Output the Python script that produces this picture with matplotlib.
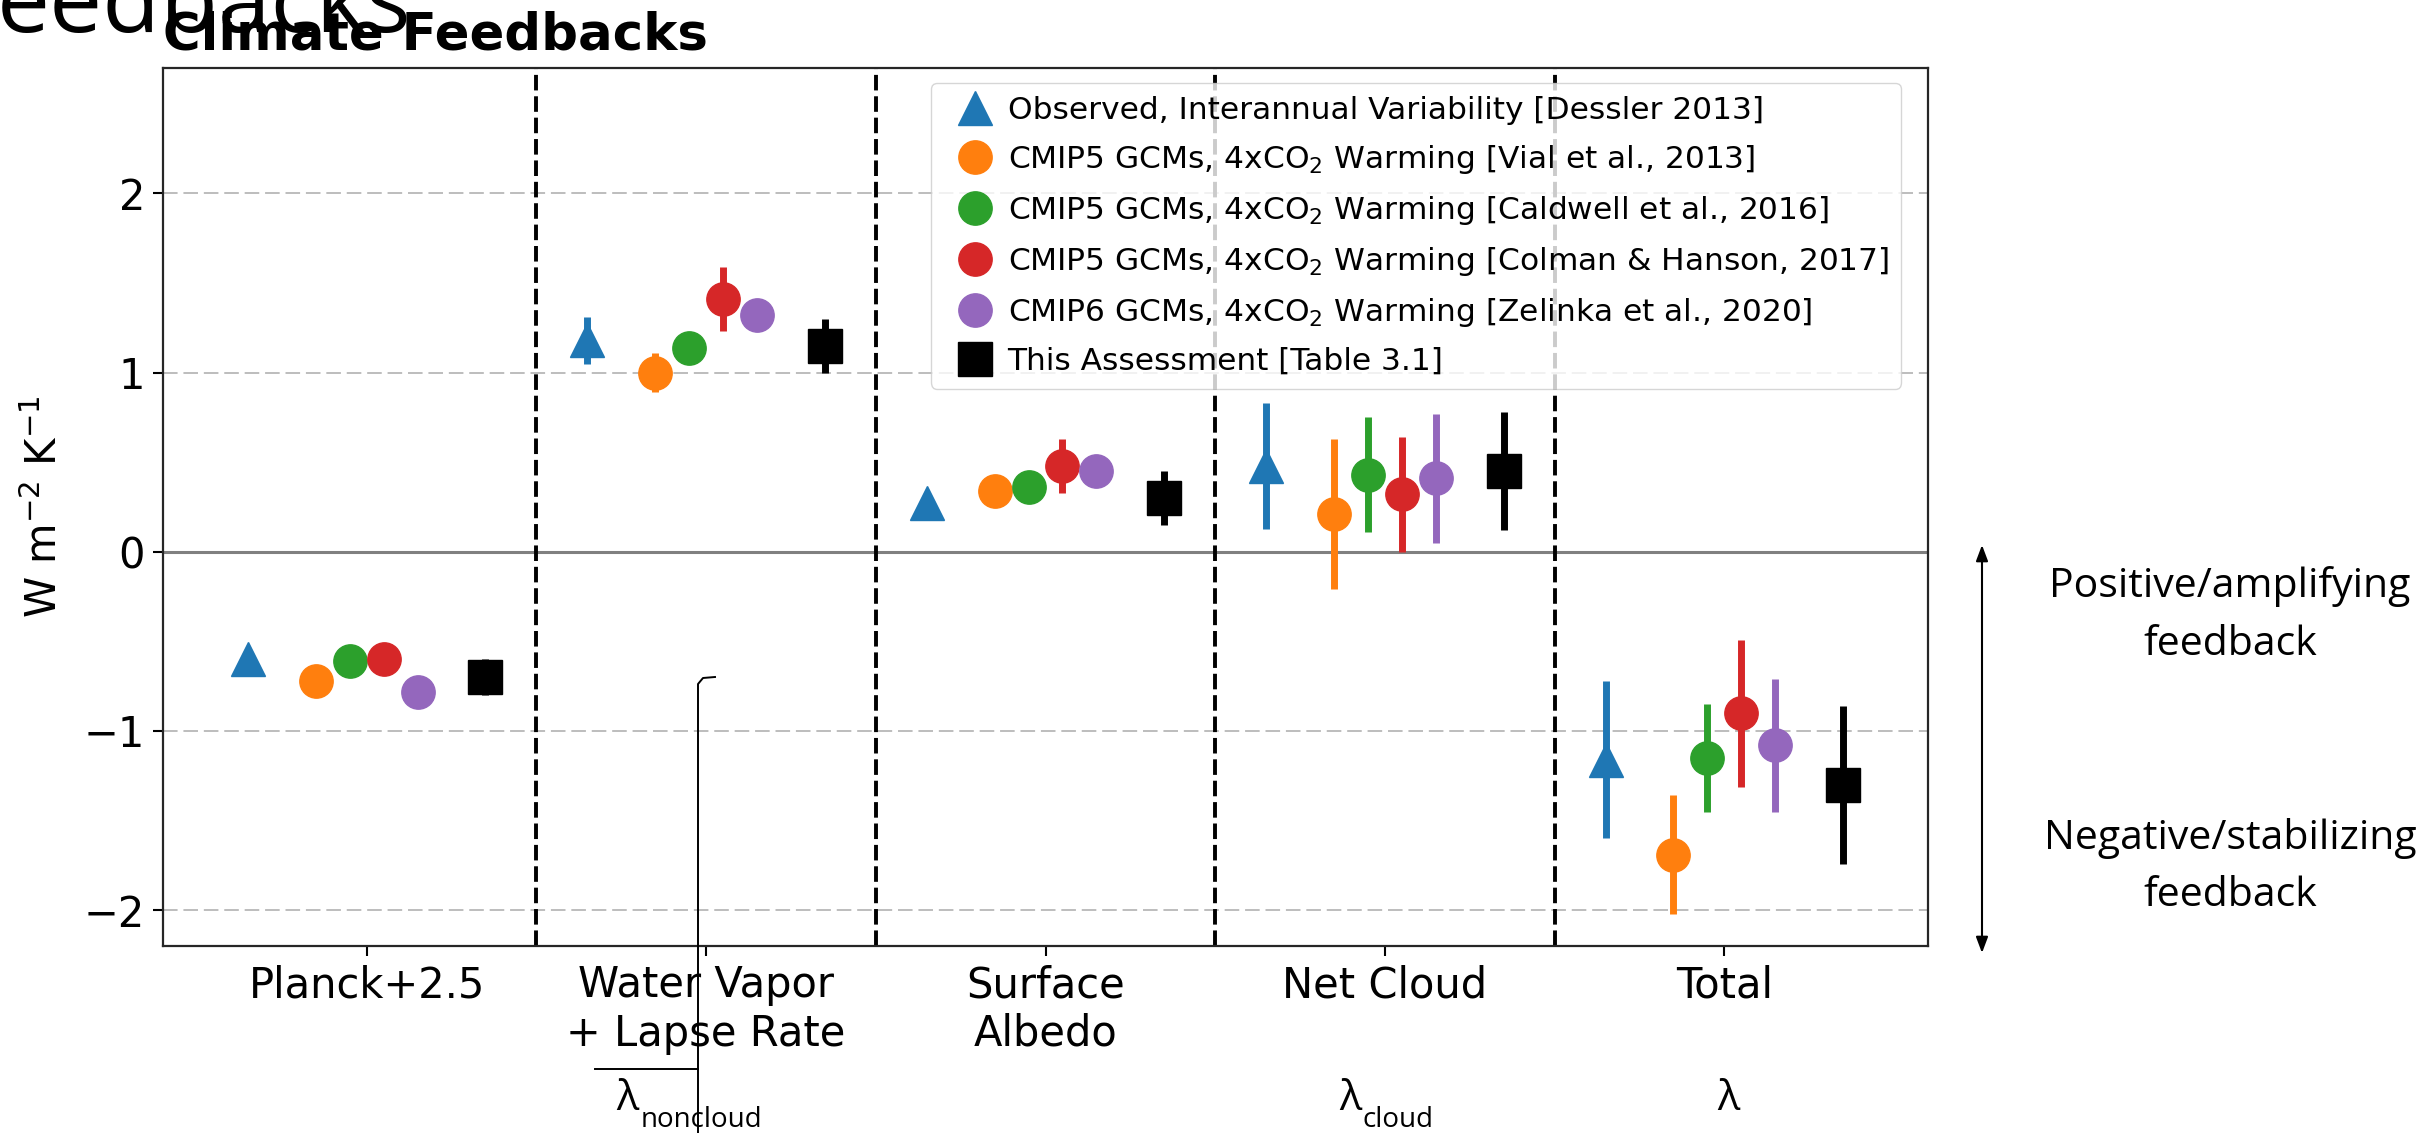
import numpy as np
import matplotlib
matplotlib.use('Agg')
import matplotlib.pyplot as plt
from matplotlib.lines import Line2D
from matplotlib.patches import FancyArrowPatch

# feedback categories (x axis)
categories = ['Planck+2.5', 'Water Vapor\n+ Lapse Rate', 'Surface\nAlbedo', 'Net Cloud', 'Total']

# values, W m-2 K-1
dessler = [-0.60, 1.18, 0.27, 0.48, -1.16]
dessler_err = [0.03, 0.13, 0.05, 0.35, 0.44]
vial = [-0.72, 1.00, 0.34, 0.21, -1.69]
vial_err = [0.04, 0.11, 0.06, 0.42, 0.33]
caldwell = [-0.61, 1.14, 0.36, 0.43, -1.15]
caldwell_err = [0.04, 0.08, 0.06, 0.32, 0.30]
colman = [-0.60, 1.41, 0.48, 0.32, -0.90]
colman_err = [0.05, 0.18, 0.15, 0.32, 0.41]
zelinka = [-0.78, 1.32, 0.45, 0.41, -1.08]
zelinka_err = [0.04, 0.08, 0.06, 0.36, 0.37]
assessment = [-0.70, 1.15, 0.30, 0.45, -1.30]
assessment_err = [0.10, 0.15, 0.15, 0.33, 0.44]

labels = ['Observed, Interannual Variability [Dessler 2013]',
          'CMIP5 GCMs, 4xCO$_2$ Warming [Vial et al., 2013]',
          'CMIP5 GCMs, 4xCO$_2$ Warming [Caldwell et al., 2016]',
          'CMIP5 GCMs, 4xCO$_2$ Warming [Colman & Hanson, 2017]',
          'CMIP6 GCMs, 4xCO$_2$ Warming [Zelinka et al., 2020]',
          'This Assessment [Table 3.1]']

W, H = 2433, 1133


def fxy(px, py):
    # pixel position -> figure fraction
    return px / W, 1 - py / H


fig = plt.figure(figsize=(W / 100, H / 100), dpi=100)
ax = fig.add_axes([163 / W, 1 - 946 / H, (1928 - 163) / W, (946 - 68) / H])

x = np.arange(len(categories))
series = [(dessler, dessler_err, '^', 'C0'),
          (vial, vial_err, 'o', 'C1'),
          (caldwell, caldwell_err, 'o', 'C2'),
          (colman, colman_err, 'o', 'C3'),
          (zelinka, zelinka_err, 'o', 'C4'),
          (assessment, assessment_err, 's', 'k')]
offsets = [-0.35, -0.15, -0.05, 0.05, 0.15, 0.35]

for i, (vals, errs, m, c) in enumerate(series):
    xs = x + offsets[i]
    ax.errorbar(xs, vals, yerr=errs, fmt='none', ecolor=c, elinewidth=5, capsize=0, zorder=3)
    ax.plot(xs, vals, m, color=c, ms=24, ls='none', label=labels[i], zorder=4)

ax.axhline(0, color='0.5', lw=2.2, zorder=2)
for b in [0.5, 1.5, 2.5, 3.5]:
    ax.axvline(b, color='k', lw=2.8, ls=(0, (4, 1.5)), zorder=2)

ax.set_xlim(-0.6, 4.6)
ax.set_ylim(-2.2, 2.7)
ax.set_yticks([-2, -1, 0, 1, 2])
ax.yaxis.grid(True, ls=(0, (7.5, 3)), lw=1.4, color='#bdbdbd')
ax.set_axisbelow(True)
ax.set_xticks(x)
ax.set_xticklabels(categories)
ax.tick_params(labelsize=30, length=7, width=1.5, pad=6)
for s in ax.spines.values():
    s.set_linewidth(1.6)
    s.set_color('0.15')

ax.set_ylabel('W m$^{-2}$ K$^{-1}$', fontsize=30)
ax.yaxis.set_label_coords(-0.055, 0.5)
ax.set_title('Climate Feedbacks', loc='left', fontsize=37, fontweight='bold', pad=13)

ax.legend(loc='upper left', bbox_to_anchor=(0.4351, 0.9829), borderaxespad=0,
          fontsize=22.5, borderpad=0.4, handlelength=2.0, handletextpad=0.05,
          labelspacing=0.58, numpoints=1)

# slide leftovers around the chart
fig.text(*fxy(-3, 32), 'eedbacks', fontsize=68, family='Open Sans', ha='left', va='baseline')

side = dict(fontsize=29.5, family='Open Sans', ha='center', va='baseline')
fig.text(*fxy(2230, 597), 'Positive/amplifying', **side)
fig.text(*fxy(2230, 655), 'feedback', **side)
fig.text(*fxy(2230, 849), 'Negative/stabilizing', **side)
fig.text(*fxy(2230, 906), 'feedback', **side)

fig.add_artist(FancyArrowPatch(fxy(1982, 545), fxy(1982, 953), transform=fig.transFigure,
                               arrowstyle='<|-|>,head_length=0.8,head_width=0.3',
                               mutation_scale=12, lw=1.5, color='k', shrinkA=0, shrinkB=0))

lam = dict(family='Open Sans', ha='left', va='baseline')
fig.text(*fxy(616, 1110), 'λ', fontsize=30, **lam)
fig.text(*fxy(641, 1127), 'noncloud', fontsize=20, **lam)
fig.text(*fxy(1339, 1110), 'λ', fontsize=30, **lam)
fig.text(*fxy(1362, 1127), 'cloud', fontsize=20, **lam)
fig.text(*fxy(1717, 1110), 'λ', fontsize=30, **lam)

# brace fragment
bx, by = zip(*[fxy(715, 677), fxy(703, 678), fxy(698, 684), fxy(698, 1140)])
fig.add_artist(Line2D(bx, by, transform=fig.transFigure, color='k', lw=1.4))
hx, hy = zip(*[fxy(595, 1069), fxy(698, 1069)])
fig.add_artist(Line2D(hx, hy, transform=fig.transFigure, color='k', lw=1.4))

fig.savefig('out.png', dpi=100)
